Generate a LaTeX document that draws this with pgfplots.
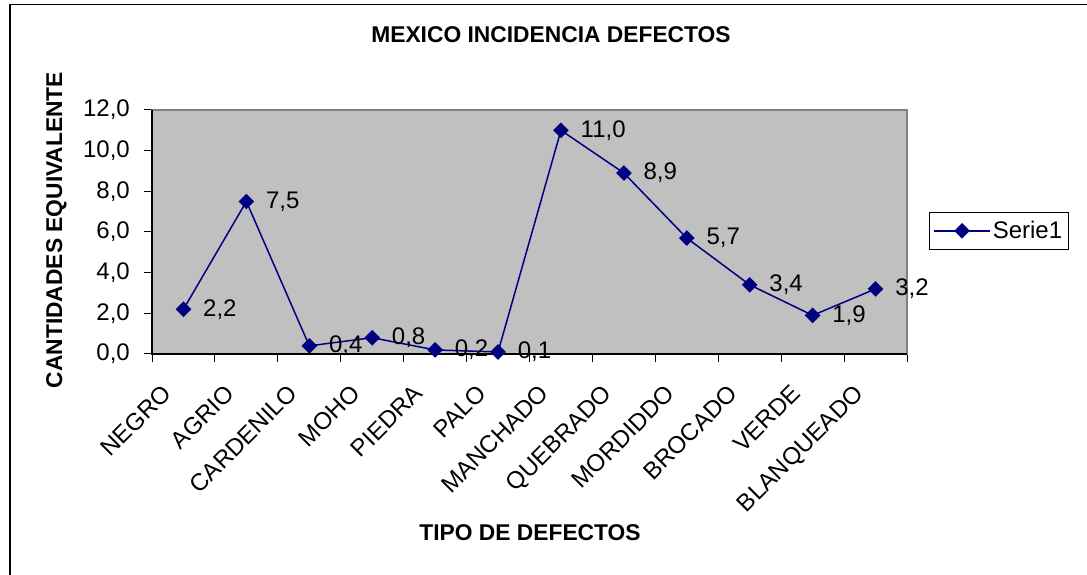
\documentclass[border=0pt]{standalone}
\usepackage{pgfplots}
\pgfplotsset{compat=1.18}
\usepackage{fontspec}
\setmainfont{Liberation Sans}
\definecolor{navy}{HTML}{000080}
\definecolor{plotgray}{HTML}{C0C0C0}
\definecolor{framegray}{HTML}{808080}
\newcommand{\nf}{\fontsize{24bp}{28bp}\selectfont}
\newcommand{\bft}{\fontsize{22.8bp}{27bp}\selectfont\bfseries}
\begin{document}
\begin{tikzpicture}[x=1bp,y=1bp]
\path[use as bounding box] (0,0) rectangle (1087,575);
\draw[line width=1.5bp] (10,0) -- (10,570.5) -- (1087,570.5);
\node[anchor=base, font=\bft, inner sep=0pt] at (551,532) {MEXICO INCIDENCIA DEFECTOS};
\node[anchor=base, rotate=90, font=\bft, inner sep=0pt] at (62,345) {CANTIDADES EQUIVALENTE};
\node[anchor=base, font=\bft, inner sep=0pt] at (530,34) {TIPO DE DEFECTOS};
\begin{axis}[
  at={(152bp,221bp)}, anchor=south west,
  width=755bp, height=244bp, scale only axis,
  xmin=-0.5, xmax=11.5, ymin=0, ymax=12,
  xtick={0,...,11},
  xticklabels={NEGRO,AGRIO,CARDENILO,MOHO,PIEDRA,PALO,MANCHADO,QUEBRADO,MORDIDDO,BROCADO,VERDE,BLANQUEADO},
  minor xtick={-0.5,0.5,...,11.5},
  ytick={0,2,...,12},
  yticklabels={{0,0},{2,0},{4,0},{6,0},{8,0},{10,0},{12,0}},
  tick pos=left,
  tick align=outside, major tick length=8bp, minor tick length=8bp,
  tick style={black, line width=1bp},
  major x tick style={draw=none},
  axis background/.style={fill=plotgray},
  axis line style={draw=none},
  xticklabel style={font=\nf, rotate=45, anchor=north east, inner sep=0pt, xshift=-31bp, yshift=1bp},
  yticklabel style={font=\nf, inner sep=0pt, xshift=-14bp},
  clip=false,
  point meta=y,
  nodes near coords={\pgfmathprintnumber[fixed,fixed zerofill,precision=1,use comma,assume math mode=true]{\pgfplotspointmeta}},
  nodes near coords style={font=\nf, anchor=west, inner sep=0pt, xshift=19bp, text=black},
  legend style={at={(1.029,0.582)}, anchor=north west, draw=black, line width=0.8bp, font=\nf, inner xsep=4bp, inner ysep=7bp},
  legend image code/.code={\draw[#1] (0bp,0bp) -- (56bp,0bp); \draw[#1] plot coordinates {(28bp,0bp)};},
]
\draw[framegray, line width=1.5bp] (rel axis cs:0,0) rectangle (rel axis cs:1,1);
\draw[black, line width=1.2bp] (rel axis cs:0,1) -- (rel axis cs:0,0) -- (rel axis cs:1,0);
\addplot[navy, line width=1.5bp, mark=square*, mark size=4.8bp, mark options={rotate=45, fill=navy, draw=navy, solid}]
coordinates {(0,2.2) (1,7.5) (2,0.4) (3,0.8) (4,0.2) (5,0.1) (6,11.0) (7,8.9) (8,5.7) (9,3.4) (10,1.9) (11,3.2)};
\addlegendentry{Serie1}
\end{axis}
\end{tikzpicture}
\end{document}
